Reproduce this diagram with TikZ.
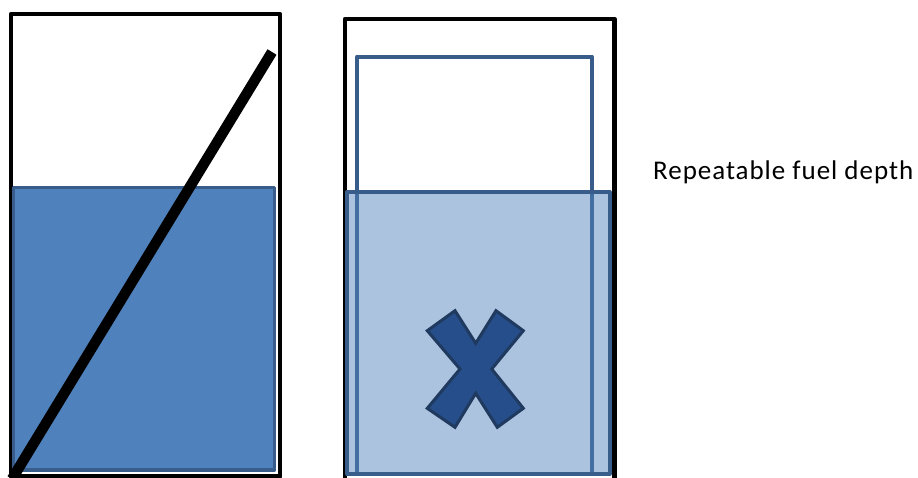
\documentclass[tikz,border=0pt]{standalone}
\usepackage{fontspec}
\setmainfont{Carlito}
\definecolor{ofblue}{HTML}{4F81BD}
\definecolor{ofline}{HTML}{385D8A}
\definecolor{xfill}{HTML}{264E8B}
\definecolor{xline}{HTML}{1F3A5E}
\tikzset{
  container/.style={draw=black, line width=4.5pt, line join=round},
  blueline/.style={draw=ofline, line width=4pt, line join=round},
  bar/.style={draw=black, line width=10.5pt},
  xmark/.style={fill=xfill, draw=xline, line width=3pt, line join=miter},
  label/.style={anchor=base west, inner sep=0pt, font=\fontsize{27}{32}\selectfont\addfontfeatures{LetterSpace=3.6}}
}
\begin{document}
\begin{tikzpicture}[x=1pt,y=-1pt]
\useasboundingbox (0,0) rectangle (918,477);
\begin{scope}
\clip (0,0) rectangle (918,477);
% left tank
\draw[container] (11,14) rectangle (280,476.5);
\draw[blueline, line width=3.5pt, fill=ofblue] (13.5,187.5) rectangle (274.5,470);
\draw[bar] (272,52) -- (12,479);
% right tank
\draw[container] (345,19) rectangle (614.5,485);
\draw[blueline] (357,56.5) rectangle (591.5,474);
\fill[ofblue, fill opacity=0.48] (347,192) rectangle (609.5,474);
\draw[blueline] (347,192) rectangle (609.5,474);
% X mark
\draw[xmark] (427.3,330.7) -- (455,310.7) -- (475.7,343.3) -- (496,310.7)
  -- (523.3,330.7) -- (491.7,369) -- (523.3,408.3) -- (497.3,427.3)
  -- (475.7,393.3) -- (455,427.3) -- (427.3,408.3) -- (460,369) -- cycle;
\end{scope}
\node[label] (lbl) at (653,179.5) {Repeatable fuel depth};
\end{tikzpicture}
\end{document}
